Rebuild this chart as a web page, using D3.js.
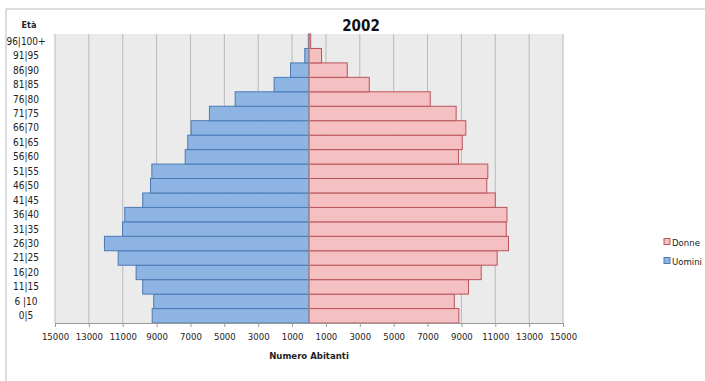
<!DOCTYPE html>
<html>
<head>
<meta charset="utf-8">
<script src="https://cdn.jsdelivr.net/npm/d3@7"></script>
<style>
  body { margin: 0; background: #fff; }
  text { font-family: "Liberation Sans Narrow", "DejaVu Sans Condensed", Arial, sans-serif; }
</style>
</head>
<body>
<div id="chart"></div>
<script>
// age classes, bottom to top
var ages = ["0|5", "6 |10", "11|15", "16|20", "21|25", "26|30", "31|35", "36|40", "41|45",
            "46|50", "51|55", "56|60", "61|65", "66|70", "71|75", "76|80", "81|85", "86|90",
            "91|95", "96|100+"];
var uomini = [9260, 9170, 9820, 10210, 11270, 12080, 11010, 10880, 9820,
              9360, 9280, 7310, 7160, 6960, 5880, 4360, 2060, 1090, 250, 40];
var donne = [8850, 8580, 9420, 10170, 11110, 11780, 11650, 11690, 11000,
             10500, 10560, 8830, 9050, 9260, 8690, 7160, 3560, 2260, 740, 100];
var tickVals = [-15000, -13000, -11000, -9000, -7000, -5000, -3000, -1000,
                1000, 3000, 5000, 7000, 9000, 11000, 13000, 15000];

var w = 705, h = 381,
    svg = d3.select("#chart").append("svg").attr("width", w).attr("height", h),
    x = d3.scaleLinear().domain([-15000, 15000]).range([55, 563]),
    y = d3.scaleBand().domain(ages).range([323, 34]).padding(0);

// outer frame
svg.append("line").attr("x1", 6).attr("x2", w).attr("y1", 9).attr("y2", 9)
   .attr("stroke", "#d2d2d2").attr("stroke-width", 1.5);
svg.append("line").attr("x1", 6).attr("x2", 6).attr("y1", 9).attr("y2", h)
   .attr("stroke", "#d2d2d2").attr("stroke-width", 1.5);

// plot background
svg.append("rect")
   .attr("x", x(-15000)).attr("y", 34)
   .attr("width", x(15000) - x(-15000)).attr("height", 323 - 34)
   .attr("fill", "#ebebeb");

// gridlines
svg.selectAll(".grid").data(tickVals).enter().append("line")
   .attr("x1", function(d) { return x(d); }).attr("x2", function(d) { return x(d); })
   .attr("y1", 34).attr("y2", 323)
   .attr("stroke", "#b9b9b9").attr("stroke-width", 1);

// men bars (left)
svg.selectAll(".m").data(uomini).enter().append("rect")
   .attr("x", function(d) { return x(-d); })
   .attr("y", function(d, i) { return y(ages[i]); })
   .attr("width", function(d) { return x(0) - x(-d); })
   .attr("height", y.bandwidth())
   .attr("fill", "#8db4e3")
   .attr("stroke", "#4a7ab5")
   .attr("stroke-width", 1);

// women bars (right)
svg.selectAll(".f").data(donne).enter().append("rect")
   .attr("x", x(0))
   .attr("y", function(d, i) { return y(ages[i]); })
   .attr("width", function(d) { return x(d) - x(0); })
   .attr("height", y.bandwidth())
   .attr("fill", "#f4c0c1")
   .attr("stroke", "#b9545a")
   .attr("stroke-width", 1);

// center line
svg.append("line").attr("x1", x(0)).attr("x2", x(0)).attr("y1", 34).attr("y2", 323)
   .attr("stroke", "#999").attr("stroke-width", 1);

// x axis
var xa = svg.append("g")
   .attr("transform", "translate(0,323)")
   .call(d3.axisBottom(x).tickValues(tickVals)
          .tickSize(4).tickFormat(function(d) { return Math.abs(d); }));
xa.select(".domain").attr("stroke", "#999");
xa.selectAll(".tick line").attr("stroke", "#999");
xa.selectAll("text").attr("font-size", "9.5px").attr("fill", "#222").attr("dy", "1em")
   .style("font-family", "'Liberation Sans Narrow', 'DejaVu Sans Condensed', sans-serif");

// y labels
svg.selectAll(".age").data(ages).enter().append("text")
   .attr("x", 26)
   .attr("y", function(d) { return y(d) + y.bandwidth() / 2 + 3.5; })
   .attr("text-anchor", "middle")
   .attr("font-size", "10px")
   .attr("fill", "#222")
   .text(function(d) { return d; });

// titles
svg.append("text").attr("x", 361).attr("y", 31).attr("text-anchor", "middle")
   .attr("font-size", "15px").attr("font-weight", "bold").attr("fill", "#111").text("2002");
svg.append("text").attr("x", 29).attr("y", 28).attr("text-anchor", "middle")
   .attr("font-size", "9px").attr("font-weight", "bold").attr("fill", "#222").text("Età");
svg.append("text").attr("x", 309).attr("y", 359).attr("text-anchor", "middle")
   .attr("font-size", "9.5px").attr("font-weight", "bold").attr("fill", "#222").text("Numero Abitanti");

// legend
var legend = [["Donne", "#f4c0c1", "#b9545a", 242], ["Uomini", "#8db4e3", "#4a7ab5", 261]];
legend.forEach(function(l) {
  svg.append("rect").attr("x", 664).attr("y", l[3] - 3.5).attr("width", 6).attr("height", 6)
     .attr("fill", l[1]).attr("stroke", l[2]).attr("stroke-width", 1);
  svg.append("text").attr("x", 672).attr("y", l[3] + 3.5)
     .attr("font-size", "9.5px").attr("fill", "#222").text(l[0]);
});
</script>
</body>
</html>
